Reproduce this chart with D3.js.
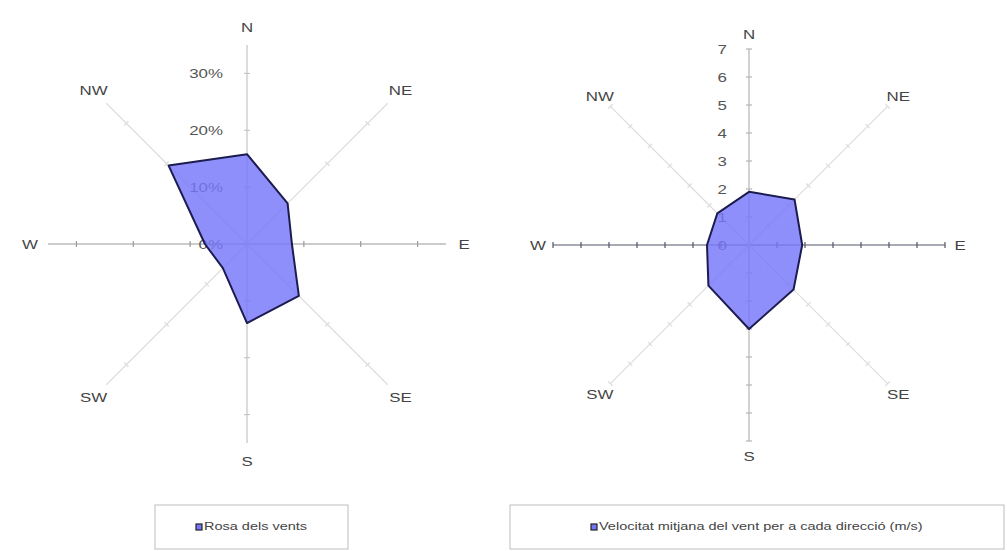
<!DOCTYPE html>
<html>
<head>
<meta charset="utf-8">
<script src="https://cdn.jsdelivr.net/npm/d3@7"></script>
<style>
  body { margin: 0; background: #fff; }
  text { font-family: "Liberation Sans", Arial, sans-serif; }
</style>
</head>
<body>
<div id="chart"></div>
<script>
// directions, clockwise from north
var directions = ["N", "NE", "E", "SE", "S", "SW", "W", "NW"];

// left chart: frequency of wind per direction
var freqValues = [0.158, 0.101, 0.079, 0.129, 0.139, 0.060, 0.074, 0.195];
var freqTicks = [0, 0.1, 0.2, 0.3];
var freqMax = 0.35;
var freqLegend = "Rosa dels vents";

// right chart: mean wind speed per direction (m/s)
var speedValues = [1.9, 2.3, 1.9, 2.25, 3.0, 2.05, 1.5, 1.6];
var speedTicks = [0, 1, 2, 3, 4, 5, 6, 7];
var speedMax = 7;
var speedLegend = "Velocitat mitjana del vent per a cada direcció (m/s)";

var svg = d3.select("#chart").append("svg")
    .attr("width", 1007)
    .attr("height", 551);

function drawRose(opts) {
  var g = svg.append("g")
      .attr("transform", "translate(" + opts.cx + "," + opts.cy + ")");

  var r = d3.scaleLinear().domain([0, opts.max]).range([0, opts.radius]);
  var angle = d3.scalePoint().domain(directions).range([0, 315]);

  function px(d, v) { return r(v) * Math.sin(angle(d) * Math.PI / 180); }
  function py(d, v) { return -r(v) * Math.cos(angle(d) * Math.PI / 180); }

  // spokes
  directions.forEach(function(d) {
    var a = angle(d);
    var col = (d == "E" || d == "W") ? opts.hColor : (d == "N" || d == "S") ? opts.vColor : "#dcdcdc";
    g.append("line")
        .attr("x1", 0).attr("y1", 0)
        .attr("x2", px(d, opts.max)).attr("y2", py(d, opts.max))
        .attr("stroke", col)
        .attr("stroke-width", 1.2);

    // tick marks along the spoke
    var rad = a * Math.PI / 180;
    var nx = Math.cos(rad) * 3, ny = Math.sin(rad) * 3;
    opts.ticks.filter(function(t){ return t > 0; }).forEach(function(t) {
      g.append("line")
          .attr("x1", px(d, t) - nx).attr("y1", py(d, t) - ny)
          .attr("x2", px(d, t) + nx).attr("y2", py(d, t) + ny)
          .attr("stroke", col)
          .attr("stroke-width", 1.2);
    });

    // direction label
    g.append("text")
        .attr("transform", "translate(" + (opts.labelR * Math.sin(rad)) + "," + (-opts.labelR * Math.cos(rad)) + ") scale(1.3,1)")
        .attr("text-anchor", "middle")
        .attr("dominant-baseline", "central")
        .attr("font-size", "13px")
        .attr("fill", "#444")
        .text(d);
  });

  // tick labels on the north spoke
  g.selectAll(".tlab")
    .data(opts.ticks)
    .enter().append("text")
      .attr("class", "tlab")
      .attr("transform", function(t){ return "translate(" + opts.tickDx + "," + (-r(t)) + ") scale(1.3,1)"; })
      .attr("text-anchor", "end")
      .attr("dominant-baseline", "central")
      .attr("font-size", "13px")
      .attr("fill", "#555")
      .text(opts.format);

  // data polygon
  var line = d3.lineRadial()
      .angle(function(d, i){ return angle(directions[i]) * Math.PI / 180; })
      .radius(function(d){ return r(d); })
      .curve(d3.curveLinearClosed);

  g.append("path")
      .attr("d", line(opts.values))
      .attr("fill", "rgb(118,118,250)")
      .attr("fill-opacity", 0.82)
      .attr("stroke", "#1c1c50")
      .attr("stroke-width", 2)
      .attr("stroke-linejoin", "round");

  // legend
  var lg = svg.append("g");
  lg.append("rect")
      .attr("x", opts.legend.x).attr("y", 505)
      .attr("width", opts.legend.w).attr("height", 44)
      .attr("fill", "#fff")
      .attr("stroke", "#bdbdbd");
  lg.append("rect")
      .attr("x", opts.legend.mx).attr("y", 524)
      .attr("width", 6).attr("height", 6)
      .attr("fill", "rgb(118,118,250)")
      .attr("stroke", "#222")
      .attr("stroke-width", 1.2);
  lg.append("text")
      .attr("transform", "translate(" + (opts.legend.mx + 8) + ",527) scale(1.45,1)")
      .attr("dominant-baseline", "central")
      .attr("font-size", "10px")
      .attr("fill", "#444")
      .text(opts.legend.text);
}

drawRose({
  cx: 247, cy: 244, radius: 199, max: freqMax,
  ticks: freqTicks, values: freqValues,
  format: d3.format(".0%"),
  labelR: 217, tickDx: -24,
  hColor: "#9a9a9a", vColor: "#c4c4c4",
  legend: { x: 155, w: 193, mx: 196, text: freqLegend }
});

drawRose({
  cx: 749, cy: 245, radius: 196, max: speedMax,
  ticks: speedTicks, values: speedValues,
  format: d3.format("d"),
  labelR: 211, tickDx: -22,
  hColor: "#505468", vColor: "#b4b4b4",
  legend: { x: 510, w: 494, mx: 591, text: speedLegend }
});
</script>
</body>
</html>
